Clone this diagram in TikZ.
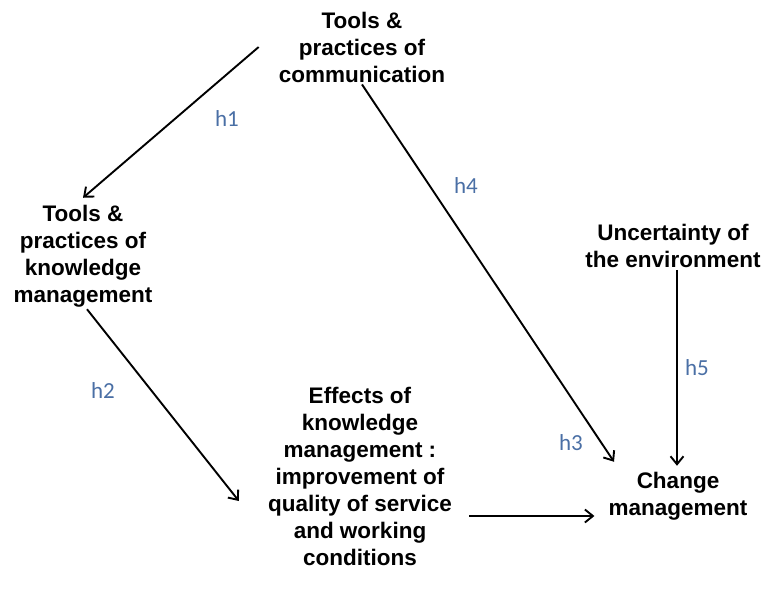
\documentclass[tikz,border=0pt]{standalone}
\usepackage{fontspec}
\setmainfont{Liberation Sans}
\newfontfamily\hlabelfont{Carlito}
\usetikzlibrary{arrows.meta,calc}
\definecolor{hblue}{HTML}{4A6FA5}
\begin{document}
\begin{tikzpicture}[x=1pt,y=-1pt,
  concept/.style={align=center,inner sep=2pt,font=\fontsize{22.5}{27}\selectfont\bfseries},
  conn/.style={line width=1.9pt,-{Straight Barb[length=8pt,width=13pt,line width=1.9pt]}},
  hyp/.style={text=hblue,font=\hlabelfont\fontsize{23}{27}\selectfont}]
\useasboundingbox (0,0) rectangle (763,594);

% concepts
\node[concept] (comm) at (362,47) {Tools \&\\practices of\\communication};
\node[concept] (km)   at (83,256) {Tools \&\\practices of\\knowledge\\management};
\node[concept] (unc)  at (673,246) {Uncertainty of\\the environment};
\node[concept] (eff)  at (360,476) {Effects of\\knowledge\\management :\\improvement of\\quality of service\\and working\\conditions};
\node[concept] (chg)  at (678,496) {Change\\management};

% hypotheses
\draw[conn] ([xshift=-18pt]comm.west) -- ([xshift=0pt,yshift=5pt]km.north);
\draw[conn] ([xshift=4pt]km.south) -- ([xshift=-27pt,yshift=-25pt]eff.west);
\draw[conn] ([yshift=-40pt,xshift=15pt]eff.east) -- ([yshift=-20pt,xshift=-12pt]chg.west);
\draw[conn] (comm.south) -- ([xshift=-64pt,yshift=8pt]chg.north);
\draw[conn] ([xshift=4pt]unc.south) -- ([xshift=-1pt,yshift=4pt]chg.north);

% hypothesis labels
\node[hyp] (h1) at (227,119) {h1};
\node[hyp] (h2) at (103,391) {h2};
\node[hyp] (h3) at (571,443) {h3};
\node[hyp] (h4) at (466,186) {h4};
\node[hyp] (h5) at (697,368) {h5};
\end{tikzpicture}
\end{document}
